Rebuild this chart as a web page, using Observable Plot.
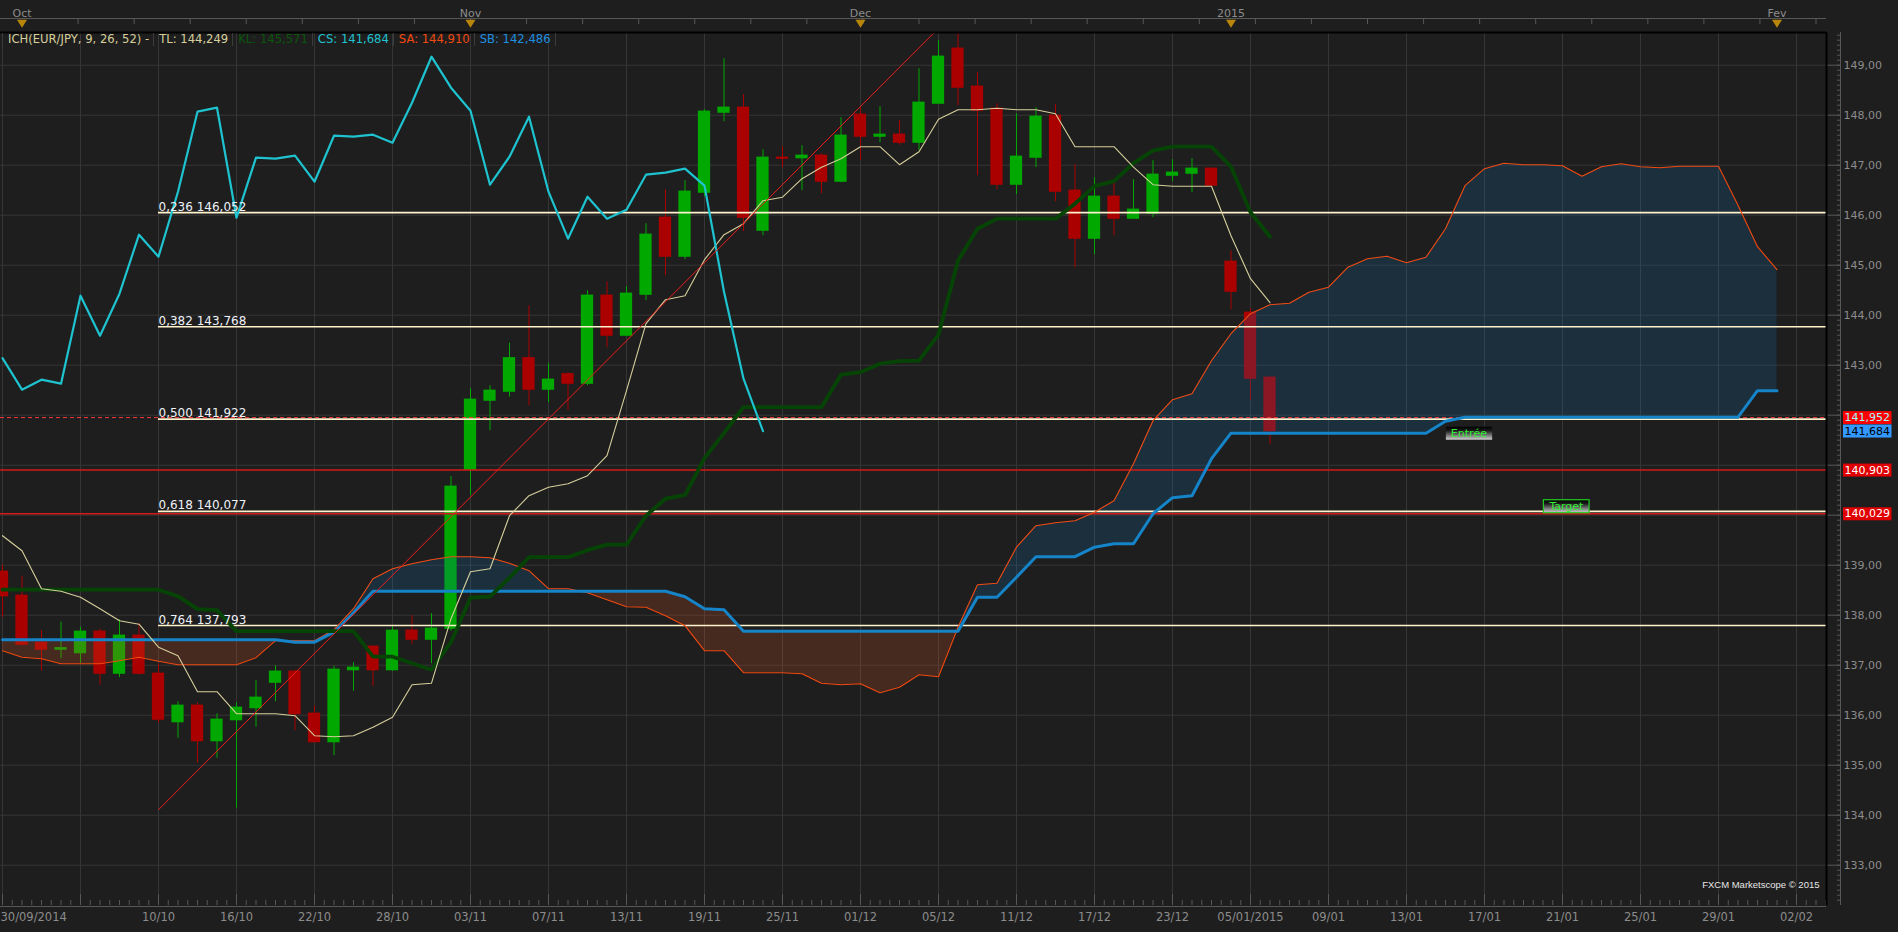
<!DOCTYPE html>
<html><head><meta charset="utf-8">
<script src="https://cdn.jsdelivr.net/npm/d3@7"></script>
<script src="https://cdn.jsdelivr.net/npm/@observablehq/plot@0.6"></script>
<style>
html,body{margin:0;padding:0;background:#1e1e1e;overflow:hidden;}
#wrap{position:relative;width:1898px;height:932px;background:#1e1e1e;}
#legend{position:absolute;left:2px;top:33px;height:13px;display:flex;font:11.6px "DejaVu Sans",sans-serif;line-height:13px;border-left:1px solid #3c3c3c;}
#legend span{padding:0 4px 0 5px;border-right:1px solid #3c3c3c;white-space:pre;}
</style></head>
<body><div id="wrap"><div id="chart"></div><div id="legend"></div></div>
<script>
// ---------- DATA ----------
const opens = [138.87,138.39,137.45,137.31,137.24,137.67,136.83,137.59,136.83,135.86,
  136.19,135.48,135.90,136.14,136.65,136.87,136.03,135.46,136.90,137.37,
  136.90,137.69,137.51,137.73,140.91,142.29,142.47,143.14,142.51,142.82,
  142.63,144.39,143.59,144.41,145.95,145.17,146.45,148.05,148.15,145.69,
  147.15,147.14,147.19,146.67,148.01,147.57,147.61,147.45,148.23,149.33,
  148.57,148.13,146.61,147.15,147.99,146.49,145.53,146.37,145.93,146.03,
  146.79,146.83,146.93,145.07,144.05,142.75];
const highs = [139.00,138.78,137.69,137.86,137.76,137.72,137.91,137.83,137.03,136.27,
  136.25,136.03,136.25,136.69,136.99,136.90,136.18,136.98,137.05,137.37,
  137.77,137.99,138.03,140.77,142.53,142.59,143.44,144.19,143.04,142.85,
  144.49,144.67,144.57,145.83,146.51,146.69,148.11,149.13,148.41,147.31,
  147.37,147.39,147.23,147.95,148.15,148.17,147.89,148.93,149.49,149.66,
  148.85,148.23,148.03,148.15,148.21,147.01,146.75,146.71,146.71,147.09,
  147.11,147.13,146.93,145.29,144.13,142.77];
const lows = [137.96,137.38,136.88,137.13,137.03,136.60,136.75,136.80,135.84,135.54,
  135.04,135.14,134.14,135.76,136.27,135.69,135.46,135.19,136.48,136.58,
  136.88,137.42,137.03,137.68,140.39,141.69,142.36,142.19,142.25,142.10,
  142.59,143.35,143.57,144.29,144.79,145.11,146.37,147.87,145.67,145.59,
  146.95,146.49,146.43,146.65,147.09,147.45,147.40,147.29,148.23,148.19,
  146.79,146.51,146.41,146.95,146.27,144.95,145.21,145.59,145.93,145.95,
  146.67,146.45,146.57,144.11,142.29,141.41];
const closes = [138.38,137.41,137.31,137.34,137.67,136.83,137.59,136.83,135.91,136.19,
  135.48,135.91,136.15,136.35,136.87,136.02,135.46,136.91,136.95,136.90,
  137.69,137.51,137.73,140.57,142.31,142.49,143.14,142.51,142.71,142.63,
  144.39,143.59,144.43,145.61,145.17,146.47,148.07,148.15,145.95,147.15,
  147.13,147.19,146.67,147.59,147.57,147.61,147.45,148.25,149.17,148.55,
  148.09,146.61,147.17,147.97,146.47,145.53,146.37,145.93,146.11,146.81,
  146.85,146.93,146.59,144.47,142.73,141.68];

const tenkan = [139.59,139.29,138.53,138.48,138.36,138.13,137.89,137.82,137.36,137.19,
  136.47,136.47,136.03,136.03,136.03,135.99,135.59,135.57,135.59,135.76,
  135.96,136.61,136.64,137.93,138.87,138.93,139.99,140.39,140.56,140.63,
  140.79,141.19,142.49,143.83,144.31,144.39,145.11,145.61,145.83,146.29,
  146.36,146.73,146.96,147.13,147.37,147.37,147.01,147.27,147.92,148.11,
  148.11,148.14,148.11,148.11,148.03,147.37,147.37,147.37,146.96,146.61,
  146.58,146.58,146.58,145.59,144.73,144.25];
const kijun = [138.51,138.51,138.51,138.51,138.51,138.51,138.51,138.51,138.51,138.38,
  138.12,138.10,137.68,137.68,137.68,137.68,137.68,137.68,137.68,137.17,
  137.17,137.04,136.91,137.46,138.35,138.37,138.75,139.16,139.16,139.16,
  139.30,139.41,139.41,139.99,140.33,140.40,141.14,141.64,142.16,142.16,
  142.16,142.16,142.16,142.81,142.86,143.03,143.08,143.09,143.61,145.09,
  145.73,145.93,145.93,145.93,145.93,146.23,146.58,146.68,147.04,147.29,
  147.37,147.37,147.37,146.97,146.06,145.57];
const chikou = [143.14,142.51,142.71,142.63,144.39,143.59,144.43,145.61,145.17,146.47,
  148.07,148.15,145.95,147.15,147.13,147.19,146.67,147.59,147.57,147.61,
  147.45,148.25,149.17,148.55,148.09,146.61,147.17,147.97,146.47,145.53,
  146.37,145.93,146.11,146.81,146.85,146.93,146.59,144.47,142.73,141.68];
const senkouA = [137.29,137.16,137.13,137.03,137.03,137.03,137.09,137.16,137.08,137.01,
  137.01,137.01,137.01,137.15,137.49,137.49,137.49,137.71,138.13,138.73,
  138.93,139.03,139.11,139.17,139.17,139.15,139.04,138.89,138.53,138.53,
  138.45,138.31,138.17,138.16,137.99,137.79,137.29,137.29,136.85,136.85,
  136.85,136.83,136.64,136.61,136.63,136.45,136.56,136.81,136.77,137.76,
  138.61,138.64,139.36,139.79,139.85,139.89,140.06,140.29,141.03,141.89,
  142.31,142.43,143.09,143.63,144.03,144.21,144.24,144.46,144.56,144.96,
  145.13,145.18,145.05,145.16,145.73,146.59,146.93,147.04,147.01,147.01,
  146.99,146.78,146.97,147.03,146.97,146.95,146.98,146.98,146.98,146.20,
  145.37,144.91];
const senkouB = [137.51,137.51,137.51,137.51,137.51,137.51,137.51,137.51,137.51,137.51,
  137.51,137.51,137.51,137.51,137.51,137.46,137.46,137.66,138.05,138.48,
  138.48,138.48,138.48,138.48,138.48,138.48,138.48,138.48,138.48,138.48,
  138.48,138.48,138.48,138.48,138.48,138.37,138.13,138.11,137.68,137.68,
  137.68,137.68,137.68,137.68,137.68,137.68,137.68,137.68,137.68,137.68,
  138.36,138.36,138.76,139.17,139.17,139.17,139.36,139.43,139.43,140.03,
  140.35,140.39,141.13,141.64,141.64,141.64,141.64,141.64,141.64,141.64,
  141.64,141.64,141.64,141.64,141.88,141.96,141.96,141.96,141.96,141.96,
  141.96,141.96,141.96,141.96,141.96,141.96,141.96,141.96,141.96,141.96,
  142.49,142.49];

const fibRatios = [0.236, 0.382, 0.500, 0.618, 0.764];
const fibLevels = [146.052, 143.768, 141.922, 140.077, 137.793];
const fibStart = 8;                       // swing-low candle index
const redLevels = [140.903, 140.029];
const priceLine = [141.952];
const trendIdx = [8, 47.8];
const trendPrice = [134.11, 149.66];
const badgeValues = [141.952, 141.684, 140.903, 140.029];
const annotations = [{label: "Entrée", i: 75.2, p: 141.64}, {label: "Target", i: 80.2, p: 140.18}];

const dateIdx = [0,8,12,16,20,24,28,32,36,40,44,48,52,56,60,64,68,72,76,80,84,88,92];
const dateLabels = ["30/09/2014","10/10","16/10","22/10","28/10","03/11","07/11","13/11","19/11","25/11",
  "01/12","05/12","11/12","17/12","23/12","05/01/2015","09/01","13/01","17/01","21/01","25/01","29/01","02/02"];
const monthIdx = [1, 24, 44, 63, 91];
const monthLabels = ["Oct", "Nov", "Dec", "2015", "Fev"];
const legendLabels = ["ICH(EUR/JPY, 9, 26, 52) -", "TL: 144,249", "KL: 145,571", "CS: 141,684", "SA: 144,910", "SB: 142,486"];

// ---------- STYLE ----------
const UP = "#00a800", DOWN = "#aa0000";
const C_TL = "#d6cf9c", C_KL = "#064406", C_CS = "#1ec3cf", C_SA = "#f24a10", C_SB = "#1584c8";
const C_FIB = "#fff2cc", C_RED = "#d41a1a", AXC = "#8c8c8c", AXL = "#575757";
const legendColors = ["#d6cf9c", C_TL, "#0c560c", C_CS, C_SA, "#1e8ee0"];
const badgeBg = ["#ff0000", "#3399ff", "#e00000", "#e00000"];
const badgeFg = ["#9ffcff", "#000000", "#ffffff", "#ffffff"];
const tagBorder = ["none", "#22cc22"];

const fmt2 = v => v.toFixed(2).replace(".", ",");
const fmt3 = v => v.toFixed(3).replace(".", ",");

const xMin = -2 / 19.5, xMax = 1824 / 19.5;
const yMin = 132.194, yMax = 149.654;

const candles = opens.map((o, i) => ({i, o, h: highs[i], l: lows[i], c: closes[i]}));
const col = d => d.c >= d.o ? UP : DOWN;

// cloud points with crossings inserted
const cloud = [];
for (let i = 0; i < senkouA.length; i++) {
  if (i > 0) {
    const d0 = senkouA[i-1] - senkouB[i-1], d1 = senkouA[i] - senkouB[i];
    if ((d0 > 0 && d1 < 0) || (d0 < 0 && d1 > 0)) {
      const t = d0 / (d0 - d1);
      const v = senkouA[i-1] + t * (senkouA[i] - senkouA[i-1]);
      cloud.push({x: i - 1 + t, a: v, b: v});
    }
  }
  cloud.push({x: i, a: senkouA[i], b: senkouB[i]});
}

// axis labels hidden behind a price badge (as in the reference)
const axisTicks = d3.range(133, 150);
const axisFmt = v => badgeValues.some(b => Math.abs(b - v) < 0.2) ? "" : fmt2(v);

// downward-pointing triangle symbol for the month markers
const downTriangle = {
  draw(ctx, size) {
    const r = Math.sqrt(size / Math.PI);
    ctx.moveTo(-1.1 * r, -0.8 * r);
    ctx.lineTo(1.1 * r, -0.8 * r);
    ctx.lineTo(0, 0.9 * r);
    ctx.closePath();
  }
};

const font = "DejaVu Sans, sans-serif";

const plot = Plot.plot({
  width: 1898, height: 932,
  marginLeft: 0, marginRight: 72, marginTop: 32, marginBottom: 27,
  style: {background: "#1e1e1e", color: AXC, fontFamily: font, fontSize: "11px", overflow: "visible"},
  x: {domain: [xMin, xMax]},
  y: {domain: [yMin, yMax]},
  color: {type: "identity"},
  marks: [
    Plot.gridY({ticks: axisTicks, stroke: "#363636", strokeOpacity: 1}),
    Plot.gridX({ticks: d3.range(0, 93, 4), stroke: "#363636", strokeOpacity: 1}),
    // candles
    Plot.ruleX(candles, {x: "i", y1: "l", y2: "h", stroke: col, strokeWidth: 1}),
    Plot.rect(candles, {x1: d => d.i - 0.315, x2: d => d.i + 0.315,
      y1: d => Math.min(d.o, d.c), y2: d => Math.max(d.o, d.c), fill: col, insetTop: -0.6, insetBottom: -0.6}),
    // kumo
    Plot.areaY(cloud, {x: "x", y1: "b", y2: d => Math.max(d.a, d.b), fill: "rgb(15,115,185)", fillOpacity: 0.2}),
    Plot.areaY(cloud, {x: "x", y1: "b", y2: d => Math.min(d.a, d.b), fill: "rgb(230,85,35)", fillOpacity: 0.2}),
    // levels
    Plot.ruleY(fibLevels, {y: d => d, x1: fibStart, x2: xMax, stroke: C_FIB, strokeWidth: 1.6}),
    Plot.ruleY(redLevels, {y: d => d, x1: xMin, x2: xMax, stroke: C_RED, strokeWidth: 1.4}),
    Plot.ruleY(priceLine, {y: d => d, x1: xMin, x2: xMax, stroke: "#ff3a3a", strokeWidth: 1, strokeDasharray: "4,3"}),
    // ichimoku lines
    Plot.lineY(senkouA, {stroke: C_SA, strokeWidth: 1.1}),
    Plot.lineY(senkouB, {stroke: C_SB, strokeWidth: 3}),
    Plot.lineY(kijun, {stroke: C_KL, strokeWidth: 3.8, strokeLinejoin: "round"}),
    Plot.lineY(tenkan, {stroke: C_TL, strokeWidth: 1.1}),
    Plot.lineY(chikou, {stroke: C_CS, strokeWidth: 2.2, strokeLinejoin: "round"}),
    // trend line
    Plot.line(trendIdx.map((x, k) => ({x, y: trendPrice[k]})), {x: "x", y: "y", stroke: "#ee1c1c", strokeWidth: 1}),
    // fib labels
    Plot.text(fibLevels, {x: fibStart, y: d => d, text: (d, k) => fmt3(fibRatios[k]) + " " + fmt3(d),
      textAnchor: "start", lineAnchor: "bottom", dy: -2, fill: "#eef1f8", fontSize: 12}),
    // right axis
    Plot.axisY({anchor: "right", ticks: axisTicks, tickSize: 14, tickPadding: 3, tickFormat: axisFmt,
      stroke: AXL, fill: AXC, fontSize: 11}),
    Plot.axisY({anchor: "right", ticks: d3.range(132.3, 149.65, 0.1), tickSize: 4, dx: 10, tickFormat: () => "",
      stroke: AXL}),
    // bottom axis
    Plot.axisX({anchor: "bottom", ticks: d3.range(0, 93.6, 0.5), tickSize: 5, dy: -5, tickFormat: () => "", stroke: AXL}),
    Plot.axisX({anchor: "bottom", ticks: d3.range(0, 93, 4), tickSize: 11, dy: -11, tickFormat: () => "", stroke: AXL}),
    Plot.text(dateIdx.slice(0, 1), {x: d => d, text: () => dateLabels[0], frameAnchor: "bottom", dy: 15,
      textAnchor: "start", dx: -2, fill: AXC, fontSize: 11.5}),
    Plot.text(dateIdx.slice(1), {x: d => d, text: (d, k) => dateLabels[k + 1], frameAnchor: "bottom", dy: 15,
      fill: AXC, fontSize: 11.5}),
    // top axis
    Plot.axisX({anchor: "top", ticks: d3.range(1 + 2.875, 93.5, 2.875), tickSize: 5, dy: -9, tickFormat: () => "", stroke: AXL}),
    Plot.text(monthIdx, {x: d => d, text: (d, k) => monthLabels[k], frameAnchor: "top", dy: -23, fill: AXC, fontSize: 11}),
    Plot.dot(monthIdx, {x: d => d, frameAnchor: "top", dy: -9, symbol: downTriangle, r: 4.6, fill: "#b8860b", stroke: null}),
    // frame lines
    Plot.ruleY([yMax], {dy: -14, stroke: AXL}),
    Plot.ruleX([xMax], {dx: 14, stroke: AXL}),
    Plot.ruleY([yMin], {dy: 1, stroke: AXL}),
    Plot.ruleY([yMax], {stroke: "#000", strokeWidth: 2}),
    Plot.ruleX([xMax], {stroke: "#000", strokeWidth: 2}),
    // annotations
    Plot.text(annotations, {x: "i", y: "p", text: "label", fill: "#33ee33", fontSize: 11}),
    // badges
    Plot.text(badgeValues, {y: d => d, text: fmt3, frameAnchor: "right", dx: 18, textAnchor: "start",
      fill: (d, k) => badgeFg[k], fontSize: 11}),
    // copyright
    Plot.text(["FXCM Marketscope © 2015"], {frameAnchor: "bottom-right", dx: -7, dy: -18, textAnchor: "end",
      fill: "#e6e6e6", fontSize: 9.5, fontFamily: "Liberation Sans, Arial, sans-serif"})
  ]
});
document.getElementById("chart").appendChild(plot);

// legend row
const lg = d3.select("#legend");
legendLabels.forEach((t, k) => lg.append("span").style("color", legendColors[k]).text(t));

// decorate badges and tags with background boxes
const svg = d3.select(plot);
const defs = svg.insert("defs", ":first-child");
const grad = defs.append("linearGradient").attr("id", "tagGrad").attr("x1", 0).attr("y1", 0).attr("x2", 0).attr("y2", 1);
grad.append("stop").attr("offset", 0).attr("stop-color", "#000");
grad.append("stop").attr("offset", 0.3).attr("stop-color", "#1a1a1a");
grad.append("stop").attr("offset", 1).attr("stop-color", "#d0d0d0");

function boxBehind(node, fill, stroke, padX) {
  const b = node.getBBox();
  const r = document.createElementNS("http://www.w3.org/2000/svg", "rect");
  r.setAttribute("x", b.x - padX);
  r.setAttribute("y", b.y);
  r.setAttribute("width", b.width + 2 * padX);
  r.setAttribute("height", b.height);
  r.setAttribute("fill", fill);
  if (stroke) { r.setAttribute("stroke", stroke); r.setAttribute("stroke-width", 1.2); }
  const tr = node.getAttribute("transform");
  if (tr) r.setAttribute("transform", tr);
  node.parentNode.insertBefore(r, node);
}
const badgeStrings = badgeValues.map(fmt3);
const tagStrings = annotations.map(a => a.label);
Array.from(plot.querySelectorAll("text")).forEach(node => {
  const t = node.textContent;
  const bi = badgeStrings.indexOf(t);
  if (bi >= 0) boxBehind(node, badgeBg[bi], null, 1.5);
  const ti = tagStrings.indexOf(t);
  if (ti >= 0) boxBehind(node, "url(#tagGrad)", tagBorder[ti] === "none" ? null : tagBorder[ti], 5);
});
</script></body></html>
